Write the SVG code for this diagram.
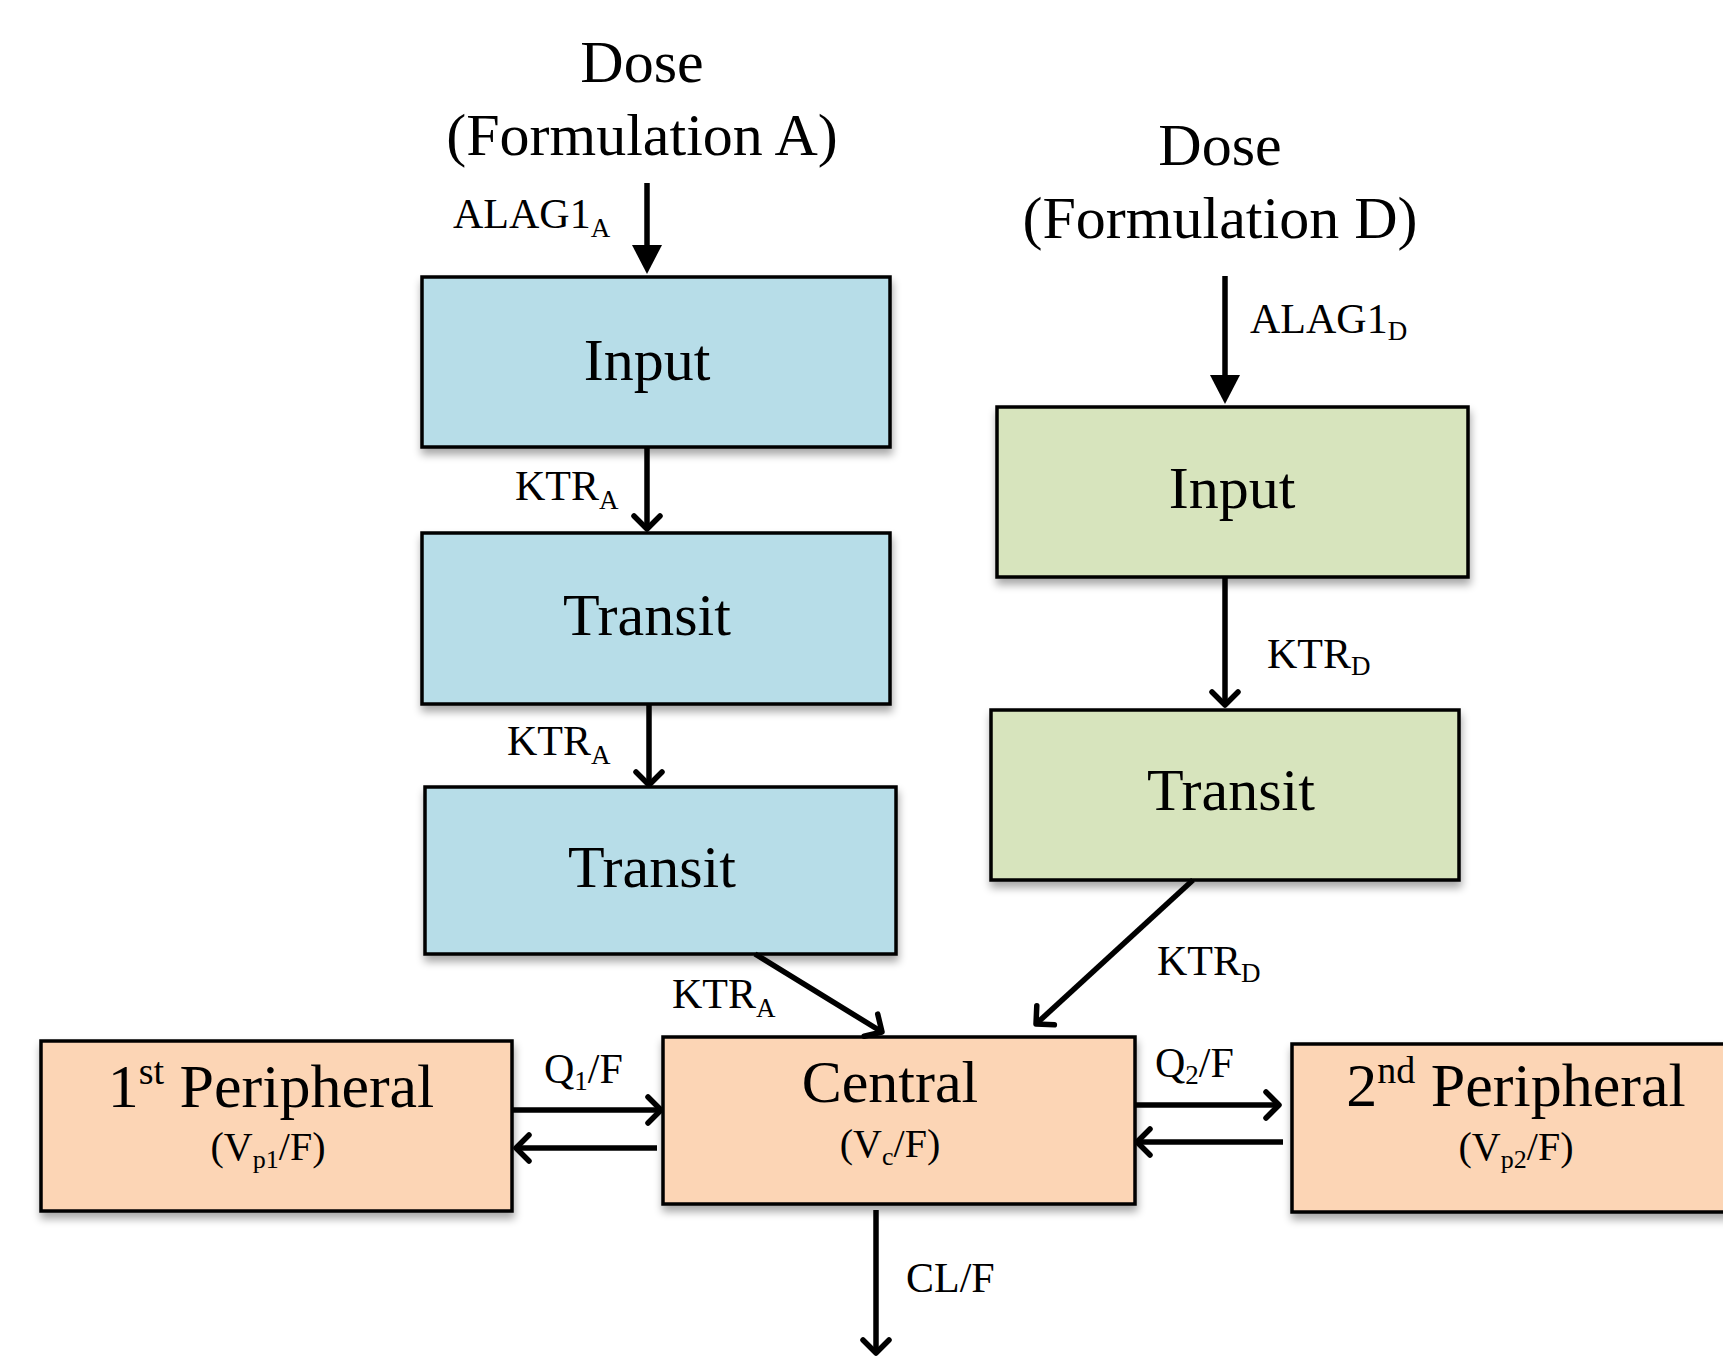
<svg xmlns="http://www.w3.org/2000/svg" width="1723" height="1358" viewBox="0 0 1723 1358">
  <defs>
    <filter id="shadow" x="-5%" y="-10%" width="115%" height="130%">
      <feGaussianBlur in="SourceAlpha" stdDeviation="4"/>
      <feOffset dx="1" dy="6" result="b"/>
      <feComponentTransfer><feFuncA type="linear" slope="0.35"/></feComponentTransfer>
      <feMerge><feMergeNode/><feMergeNode in="SourceGraphic"/></feMerge>
    </filter>
    <!-- filled triangular head used on dose inputs -->
    <marker id="solid" markerUnits="userSpaceOnUse" orient="auto" overflow="visible" markerWidth="1" markerHeight="1" refX="0" refY="0">
      <path d="M -8 -15 L 21 0 L -8 15 Z" fill="#000"/>
    </marker>
    <!-- open chevron head used on rate arrows -->
    <marker id="open" markerUnits="userSpaceOnUse" orient="auto" overflow="visible" markerWidth="1" markerHeight="1" refX="0" refY="0">
      <path d="M -13 -13 L 0 0 L -13 13" fill="none" stroke="#000" stroke-width="5.5" stroke-linecap="round" stroke-linejoin="round"/>
    </marker>
  </defs>
  <style>
    text { font-family: "Liberation Serif", "Times New Roman", serif; fill: #000; }
    .big { font-size: 60px; text-anchor: middle; }
    .per { font-size: 62px; text-anchor: middle; }
    .mid { font-size: 40px; text-anchor: middle; }
    .lbl { font-size: 42px; }
    .box { stroke: #000; stroke-width: 3.5; filter: url(#shadow); }
    .blue { fill: #B7DDE8; }
    .green { fill: #D7E4BD; }
    .orange { fill: #FCD5B5; }
    .arr { fill: none; stroke: #000; stroke-width: 5.5; }
  </style>

  <rect width="1723" height="1358" fill="#fff"/>

  <!-- dose headings -->
  <g id="doseA">
    <text class="big" x="642" y="82">Dose</text>
    <text class="big" x="642" y="155">(Formulation A)</text>
  </g>
  <g id="doseD">
    <text class="big" x="1220" y="165">Dose</text>
    <text class="big" x="1220" y="238">(Formulation D)</text>
  </g>

  <!-- formulation A chain -->
  <g id="inputA">
    <rect class="box blue" x="422" y="277" width="468" height="170"/>
    <text class="big" x="647" y="380">Input</text>
  </g>
  <g id="transitA1">
    <rect class="box blue" x="422" y="533" width="468" height="171"/>
    <text class="big" x="647" y="635">Transit</text>
  </g>
  <g id="transitA2">
    <rect class="box blue" x="425" y="787" width="471" height="167"/>
    <text class="big" x="652" y="887">Transit</text>
  </g>

  <!-- formulation D chain -->
  <g id="inputD">
    <rect class="box green" x="997" y="407" width="471" height="170"/>
    <text class="big" x="1232" y="508">Input</text>
  </g>
  <g id="transitD">
    <rect class="box green" x="991" y="710" width="468" height="170"/>
    <text class="big" x="1231" y="810">Transit</text>
  </g>

  <!-- disposition compartments -->
  <g id="central">
    <rect class="box orange" x="663" y="1037" width="472" height="167"/>
    <text class="big" x="890" y="1102">Central</text>
    <text class="mid" x="890" y="1157">(V<tspan font-size="26" dy="8">c</tspan><tspan dy="-8">/F)</tspan></text>
  </g>
  <g id="peripheral1">
    <rect class="box orange" x="41" y="1041" width="471" height="170"/>
    <text class="per" x="271" y="1107">1<tspan font-size="38" dy="-23">st</tspan><tspan dy="23"> Peripheral</tspan></text>
    <text class="mid" x="268" y="1160">(V<tspan font-size="26" dy="8">p1</tspan><tspan dy="-8">/F)</tspan></text>
  </g>
  <g id="peripheral2">
    <rect class="box orange" x="1292" y="1044" width="440" height="168"/>
    <text class="per" x="1516" y="1106">2<tspan font-size="38" dy="-23">nd</tspan><tspan dy="23"> Peripheral</tspan></text>
    <text class="mid" x="1516" y="1160">(V<tspan font-size="26" dy="8">p2</tspan><tspan dy="-8">/F)</tspan></text>
  </g>

  <!-- connectors -->
  <g id="connectors">
    <line class="arr" x1="647" y1="183" x2="647" y2="253" marker-end="url(#solid)"/>
    <line class="arr" x1="1225" y1="276" x2="1225" y2="383" marker-end="url(#solid)"/>
    <line class="arr" x1="647" y1="447" x2="647" y2="529" marker-end="url(#open)"/>
    <line class="arr" x1="649" y1="704" x2="649" y2="785" marker-end="url(#open)"/>
    <line class="arr" x1="755" y1="954" x2="882" y2="1032" marker-end="url(#open)"/>
    <line class="arr" x1="1225" y1="577" x2="1225" y2="705" marker-end="url(#open)"/>
    <line class="arr" x1="1193" y1="880" x2="1036" y2="1024" marker-end="url(#open)"/>
    <line class="arr" x1="512" y1="1110" x2="661" y2="1110" marker-end="url(#open)"/>
    <line class="arr" x1="657" y1="1148" x2="516" y2="1148" marker-end="url(#open)"/>
    <line class="arr" x1="1135" y1="1105" x2="1279" y2="1105" marker-end="url(#open)"/>
    <line class="arr" x1="1283" y1="1142" x2="1137" y2="1142" marker-end="url(#open)"/>
    <line class="arr" x1="876" y1="1210" x2="876" y2="1353" marker-end="url(#open)"/>

    <!-- rate labels -->
    <text class="lbl" x="453" y="228">ALAG1<tspan font-size="27" dy="9">A</tspan></text>
    <text class="lbl" x="1250" y="333">ALAG1<tspan font-size="27" dy="7">D</tspan></text>
    <text class="lbl" x="515" y="500">KTR<tspan font-size="27" dy="9">A</tspan></text>
    <text class="lbl" x="507" y="755">KTR<tspan font-size="27" dy="9">A</tspan></text>
    <text class="lbl" x="672" y="1008">KTR<tspan font-size="27" dy="9">A</tspan></text>
    <text class="lbl" x="1267" y="668">KTR<tspan font-size="27" dy="7">D</tspan></text>
    <text class="lbl" x="1157" y="975">KTR<tspan font-size="27" dy="7">D</tspan></text>
    <text class="lbl" x="544" y="1083">Q<tspan font-size="27" dy="7">1</tspan><tspan dy="-7">/F</tspan></text>
    <text class="lbl" x="1155" y="1077">Q<tspan font-size="27" dy="7">2</tspan><tspan dy="-7">/F</tspan></text>
    <text class="lbl" x="906" y="1292">CL/F</text>
  </g>
</svg>
